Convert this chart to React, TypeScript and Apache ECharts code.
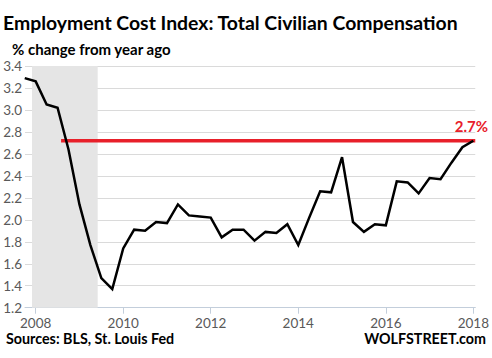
import React, { useEffect, useRef } from "react";
import * as echarts from "echarts";

// Quarter labels (first quarter shown is 2007 Q4, last is 2018 Q1)
const quarters: string[] = [
  "2007Q4",
  "2008Q1", "2008Q2", "2008Q3", "2008Q4",
  "2009Q1", "2009Q2", "2009Q3", "2009Q4",
  "2010Q1", "2010Q2", "2010Q3", "2010Q4",
  "2011Q1", "2011Q2", "2011Q3", "2011Q4",
  "2012Q1", "2012Q2", "2012Q3", "2012Q4",
  "2013Q1", "2013Q2", "2013Q3", "2013Q4",
  "2014Q1", "2014Q2", "2014Q3", "2014Q4",
  "2015Q1", "2015Q2", "2015Q3", "2015Q4",
  "2016Q1", "2016Q2", "2016Q3", "2016Q4",
  "2017Q1", "2017Q2", "2017Q3", "2017Q4",
  "2018Q1",
];

// % change from year ago
const eciValues: number[] = [
  3.29,
  3.26, 3.05, 3.02, 2.64,
  2.14, 1.77, 1.47, 1.37,
  1.74, 1.91, 1.90, 1.98,
  1.97, 2.14, 2.04, 2.03,
  2.02, 1.84, 1.91, 1.91,
  1.81, 1.89, 1.88, 1.96,
  1.77, 2.02, 2.26, 2.25,
  2.57, 1.98, 1.89, 1.96,
  1.95, 2.35, 2.34, 2.24,
  2.38, 2.37, 2.52, 2.66,
  2.72,
];

const latestValue = 2.72;
const latestLabel = "2.7%";
const refLineStart = 2008.58;
const recessionStart = 2007 + 11 / 12; // Dec 2007
const recessionEnd = 2009 + 5 / 12; // Jun 2009
const yearTicks: number[] = [2008, 2010, 2012, 2014, 2016, 2018];

const xMin = 2007.756;
const xMax = 2018.044;

function quarterToYear(q: string): number {
  const y = parseInt(q.slice(0, 4), 10);
  const n = parseInt(q.slice(5), 10);
  return y + (n - 1) * 0.25;
}

const FONT = "Lato, 'Open Sans', sans-serif";

export default function App() {
  const ref = useRef<HTMLDivElement>(null);

  useEffect(() => {
    if (!ref.current) return;
    const chart = echarts.init(ref.current, null, { renderer: "svg" });
    const lineData = quarters.map((q, i) => [quarterToYear(q), eciValues[i]]);

    chart.setOption({
      animation: false,
      backgroundColor: "#ffffff",
      textStyle: { fontFamily: FONT },
      grid: { left: 25, right: 4, top: 66, bottom: 50.3, containLabel: false },
      xAxis: {
        type: "value",
        min: xMin,
        max: xMax,
        axisLine: { show: true, lineStyle: { color: "#c3cedb", width: 1 } },
        axisTick: {
          show: true,
          customValues: yearTicks,
          length: 6,
          lineStyle: { color: "#c3cedb" },
        },
        axisLabel: {
          customValues: yearTicks,
          formatter: (v: number) => String(Math.round(v)),
          color: "#595959",
          fontSize: 13.5,
          fontFamily: FONT,
          margin: 8,
        },
        splitLine: { show: false },
      },
      yAxis: {
        type: "value",
        min: 1.2,
        max: 3.4,
        interval: 0.2,
        axisLine: { show: false },
        axisTick: { show: false },
        axisLabel: {
          formatter: (v: number) => v.toFixed(1),
          color: "#595959",
          fontSize: 13.5,
          fontFamily: FONT,
          margin: 3,
        },
        splitLine: { show: true, lineStyle: { color: "#dadada", width: 1 } },
      },
      series: [
        {
          type: "line",
          name: "recession",
          data: [],
          markArea: {
            silent: true,
            itemStyle: { color: "#e5e5e5" },
            data: [[{ xAxis: recessionStart }, { xAxis: recessionEnd }]],
          },
        },
        {
          type: "line",
          name: "latest",
          data: [
            [refLineStart, latestValue],
            [xMax, latestValue],
          ],
          symbol: "none",
          lineStyle: { color: "#e8202a", width: 3.5 },
          silent: true,
        },
        {
          type: "line",
          name: "ECI",
          data: lineData,
          symbol: "none",
          lineStyle: { color: "#000000", width: 2.5, join: "miter" },
          silent: true,
        },
      ],
      graphic: [
        {
          type: "text",
          left: 3,
          top: 13,
          style: {
            text: "Employment Cost Index: Total Civilian Compensation",
            fontFamily: FONT,
            fontWeight: "bold",
            fontSize: 19.4,
            fill: "#000000",
          },
        },
        {
          type: "text",
          left: 12,
          top: 41,
          style: {
            text: "% change from year ago",
            fontFamily: FONT,
            fontWeight: "bold",
            fontSize: 15,
            fill: "#000000",
          },
        },
        {
          type: "text",
          left: 6,
          top: 331,
          style: {
            text: "Sources: BLS, St. Louis Fed",
            fontFamily: FONT,
            fontWeight: "bold",
            fontSize: 14.3,
            fill: "#000000",
          },
        },
        {
          type: "text",
          right: 6,
          top: 331,
          style: {
            text: "WOLFSTREET.com",
            fontFamily: FONT,
            fontWeight: "bold",
            fontSize: 14.3,
            fill: "#000000",
          },
        },
        {
          type: "text",
          right: 4,
          top: 118,
          style: {
            text: latestLabel,
            fontFamily: FONT,
            fontWeight: "bold",
            fontSize: 15,
            fill: "#e8202a",
          },
        },
      ],
    });

    return () => chart.dispose();
  }, []);

  return <div ref={ref} style={{ width: 492, height: 358, position: "absolute", left: 0, top: 0 }} />;
}
